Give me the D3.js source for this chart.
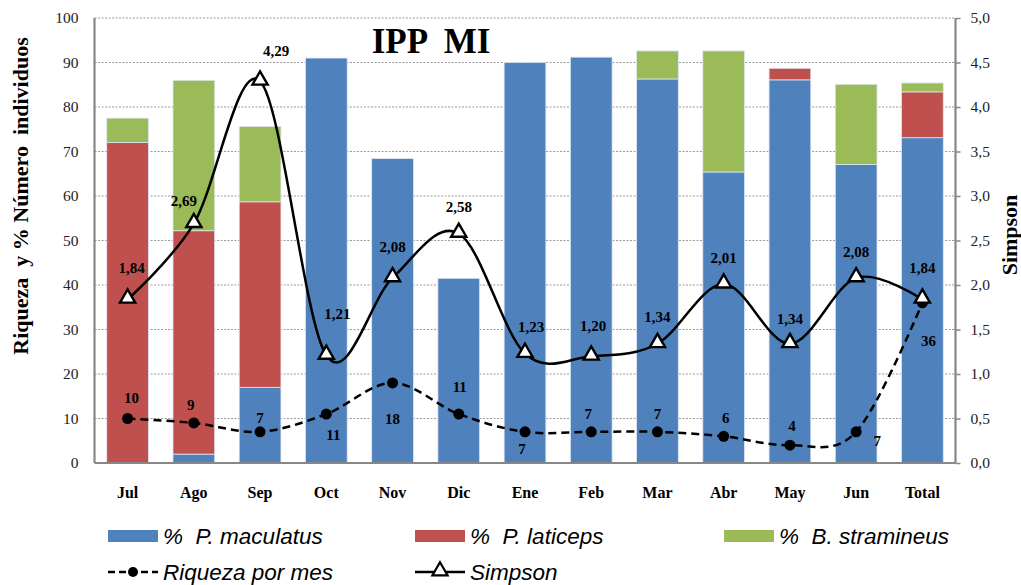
<!DOCTYPE html>
<html>
<head>
<meta charset="utf-8">
<script src="https://cdn.jsdelivr.net/npm/d3@7"></script>
<style>
  body { margin: 0; background: #fff; }
  svg { display: block; }
  .pre { white-space: pre; }
</style>
</head>
<body>
<svg id="chart" width="1021" height="585"></svg>
<script>
// Months of the sampling year plus the overall total
const categories = ["Jul","Ago","Sep","Oct","Nov","Dic","Ene","Feb","Mar","Abr","May","Jun","Total"];

// Stacked percentages per species
const maculatus  = [0, 2, 17, 91, 68.4, 41.5, 90, 91.2, 86.3, 65.4, 86.1, 67.1, 73.1];
const laticeps   = [72, 50.2, 41.7, 0, 0, 0, 0, 0, 0, 0, 2.6, 0, 10.3];
const stramineus = [5.5, 33.8, 16.9, 0, 0, 0, 0, 0, 6.3, 27.2, 0, 18, 2];

// Species richness per month (left axis)
const riqueza = [10, 9, 7, 11, 18, 11, 7, 7, 7, 6, 4, 7, 36];
// Simpson diversity index (right axis)
const simpson = [1.84, 2.69, 4.29, 1.21, 2.08, 2.58, 1.23, 1.20, 1.34, 2.01, 1.34, 2.08, 1.84];

const leftTicks  = [0,10,20,30,40,50,60,70,80,90,100];
const rightTicks = [0,0.5,1,1.5,2,2.5,3,3.5,4,4.5,5];

const seriesNames  = ["%  P. maculatus", "%  P. laticeps", "%  B. stramineus"];
const seriesColors = ["#4F81BD", "#C0504D", "#9BBB59"];

const svg = d3.select("#chart");
const plot = { left: 94.5, right: 955.5, top: 18, bottom: 463 };

const x = d3.scaleBand().domain(categories).range([plot.left, plot.right]).paddingInner(0.37).paddingOuter(0.185);
const xc = d => x(d) + x.bandwidth() / 2;
const yL = d3.scaleLinear().domain([0, 100]).range([plot.bottom, plot.top]);
const yR = d3.scaleLinear().domain([0, 5]).range([plot.bottom, plot.top]);

const fmt = v => d3.format(".1f")(v).replace(".", ",");
const fmt2 = v => d3.format(".2f")(v).replace(".", ",");

// Gridlines
svg.append("g")
  .selectAll("line")
  .data(leftTicks.filter(t => t > 0))
  .join("line")
  .attr("x1", plot.left).attr("x2", plot.right)
  .attr("y1", d => yL(d)).attr("y2", d => yL(d))
  .attr("stroke", "#9a9a9a").attr("stroke-width", 1).attr("stroke-dasharray", "2,1.5");

// Stacked bars
const rows = categories.map((c, i) => ({ cat: c, m: maculatus[i], l: laticeps[i], s: stramineus[i] }));
const stack = d3.stack().keys(["m", "l", "s"])(rows);
svg.append("g")
  .selectAll("g")
  .data(stack)
  .join("g")
  .attr("fill", (d, i) => seriesColors[i])
  .selectAll("rect")
  .data(d => d.filter(p => p[1] - p[0] > 0))
  .join("rect")
  .attr("x", d => x(d.data.cat))
  .attr("width", x.bandwidth())
  .attr("y", d => yL(d[1]))
  .attr("height", d => yL(d[0]) - yL(d[1]))
  .attr("stroke", "#dde6f0").attr("stroke-width", 0.8);

// Axes
const axisColor = "#878787";
const leftAxis = svg.append("g").attr("transform", `translate(${plot.left},0)`)
  .call(d3.axisLeft(yL).tickValues(leftTicks).tickSize(0).tickPadding(16));
const rightAxis = svg.append("g").attr("transform", `translate(${plot.right},0)`)
  .call(d3.axisRight(yR).tickValues(rightTicks).tickSize(5).tickPadding(10).tickFormat(fmt));
const bottomAxis = svg.append("g").attr("transform", `translate(0,${plot.bottom})`)
  .call(d3.axisBottom(x).tickSize(0).tickPadding(24));

[leftAxis, rightAxis, bottomAxis].forEach(g => {
  g.select(".domain").attr("stroke", axisColor).attr("stroke-width", 2.2);
  g.selectAll(".tick line").attr("stroke", axisColor).attr("stroke-width", 1.5);
  g.selectAll("text").attr("fill", "#222")
    .style("font-family", "'Liberation Serif', 'Times New Roman', serif").style("font-size", "15.5px");
});
bottomAxis.select(".domain").attr("d", `M${plot.left},0H${plot.right}`);
bottomAxis.selectAll("text").style("font-weight", "bold").style("font-size", "16px").attr("fill", "#000");
leftAxis.select(".domain").attr("d", `M0,${plot.top}V${plot.bottom}`);
rightAxis.select(".domain").attr("d", `M0,${plot.top}V${plot.bottom}`);

// Riqueza line (dashed, smoothed)
const curve = d3.curveCardinal.tension(0);
svg.append("path")
  .datum(riqueza)
  .attr("d", d3.line().x((d, i) => xc(categories[i])).y(d => yL(d)).curve(curve))
  .attr("fill", "none").attr("stroke", "#000").attr("stroke-width", 2.5).attr("stroke-dasharray", "8,5");
svg.append("g").selectAll("circle")
  .data(riqueza)
  .join("circle")
  .attr("cx", (d, i) => xc(categories[i])).attr("cy", d => yL(d)).attr("r", 5.5).attr("fill", "#000");

// Simpson line (solid, smoothed)
svg.append("path")
  .datum(simpson)
  .attr("d", d3.line().x((d, i) => xc(categories[i])).y(d => yR(d)).curve(curve))
  .attr("fill", "none").attr("stroke", "#000").attr("stroke-width", 2.5);
const tri = d3.symbol().type(d3.symbolTriangle).size(100);
svg.append("g").selectAll("path")
  .data(simpson)
  .join("path")
  .attr("transform", (d, i) => `translate(${xc(categories[i])},${yR(d) - 1})`)
  .attr("d", tri())
  .attr("fill", "#fff").attr("stroke", "#000").attr("stroke-width", 2.4).attr("stroke-linejoin", "miter");

// Data labels (offsets relative to each point)
const labelFont = "'Liberation Serif', 'Times New Roman', serif";
const simpsonOffsets = [[4,-26],[-10,-18],[16,-25],[11,-36],[0,-26],[0,-21],[6,-22],[2,-25],[0,-22],[0,-21],[0,-20],[0,-21],[0,-26]];
const riqOffsets = [[4,-16],[-3,-13],[0,-9],[7,26],[0,41],[1,-22],[-3,22],[-3,-13],[0,-13],[2,-13],[2,-14],[21,14],[6,43]];

svg.append("g").selectAll("text")
  .data(simpson)
  .join("text")
  .attr("x", (d, i) => xc(categories[i]) + simpsonOffsets[i][0])
  .attr("y", (d, i) => yR(d) + simpsonOffsets[i][1])
  .attr("text-anchor", "middle")
  .style("font-family", labelFont).style("font-weight", "bold").style("font-size", "15px")
  .text(d => fmt2(d));

svg.append("g").selectAll("text")
  .data(riqueza)
  .join("text")
  .attr("x", (d, i) => xc(categories[i]) + riqOffsets[i][0])
  .attr("y", (d, i) => yL(d) + riqOffsets[i][1])
  .attr("text-anchor", "middle")
  .style("font-family", labelFont).style("font-weight", "bold").style("font-size", "15px")
  .text(d => d);

// Title
svg.append("text")
  .attr("class", "pre")
  .attr("x", 431).attr("y", 53)
  .attr("text-anchor", "middle")
  .style("font-family", labelFont).style("font-weight", "bold").style("font-size", "35px")
  .text("IPP  MI");

// Axis titles
svg.append("text")
  .attr("class", "pre")
  .attr("transform", "translate(28,196) rotate(-90)")
  .attr("text-anchor", "middle")
  .style("font-family", labelFont).style("font-weight", "bold").style("font-size", "22px")
  .text("Riqueza  y % Número  individuos");
svg.append("text")
  .attr("transform", "translate(1017,235) rotate(-90)")
  .attr("text-anchor", "middle")
  .style("font-family", labelFont).style("font-weight", "bold").style("font-size", "22px")
  .text("Simpson");

// Legend
const legendFont = "'Liberation Sans', Arial, sans-serif";
const legendItems = [
  { name: seriesNames[0], type: "bar", color: seriesColors[0], x: 108, y: 536 },
  { name: seriesNames[1], type: "bar", color: seriesColors[1], x: 415, y: 536 },
  { name: seriesNames[2], type: "bar", color: seriesColors[2], x: 724, y: 536 },
  { name: "Riqueza por mes", type: "riq", x: 108, y: 572 },
  { name: "Simpson", type: "simp", x: 415, y: 572 }
];
const lg = svg.append("g").selectAll("g").data(legendItems).join("g")
  .attr("transform", d => `translate(${d.x},${d.y})`);
lg.filter(d => d.type === "bar").append("rect")
  .attr("x", 0).attr("y", -6).attr("width", 50).attr("height", 12).attr("fill", d => d.color);
lg.filter(d => d.type === "riq").call(g => {
  g.append("line").attr("x1", 0).attr("x2", 50).attr("y1", 0).attr("y2", 0)
    .attr("stroke", "#000").attr("stroke-width", 2.5).attr("stroke-dasharray", "7,4");
  g.append("circle").attr("cx", 25).attr("cy", 0).attr("r", 5).attr("fill", "#000");
});
lg.filter(d => d.type === "simp").call(g => {
  g.append("line").attr("x1", 0).attr("x2", 50).attr("y1", 0).attr("y2", 0)
    .attr("stroke", "#000").attr("stroke-width", 2.5);
  g.append("path").attr("transform", "translate(25,-1)").attr("d", tri())
    .attr("fill", "#fff").attr("stroke", "#000").attr("stroke-width", 2.2);
});
lg.append("text")
  .attr("class", "pre")
  .attr("x", 55).attr("y", 8)
  .style("font-family", legendFont).style("font-style", "italic").style("font-size", "22.5px")
  .text(d => d.name);
</script>
</body>
</html>
